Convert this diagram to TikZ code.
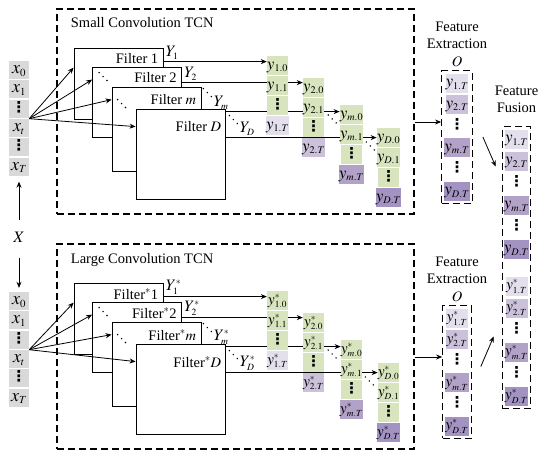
\documentclass[tikz,border=0pt]{standalone}
\usepackage{mathptmx}
\usepackage{fontspec}
\setmainfont{Liberation Serif}
\newfontfamily\dotsfont{DejaVu Sans}
\usetikzlibrary{arrows.meta, positioning, fit, backgrounds}

\definecolor{cellgray}{HTML}{D9D9D9}
\definecolor{cellgreen}{HTML}{D7E4BD}
\definecolor{lavA}{HTML}{E4DFEC}
\definecolor{lavB}{HTML}{CCC1DA}
\definecolor{lavC}{HTML}{B3A2C7}
\definecolor{lavD}{HTML}{A393C3}

\newcommand{\ssub}[1]{_{\smash{\scriptscriptstyle #1}}}
\newcommand{\vd}{{\dotsfont\bfseries\fontsize{15}{15}\selectfont ⋮}}

\begin{document}
\begin{tikzpicture}[x=1pt, y=-1pt,
  font=\fontsize{14.5}{17.5}\selectfont,
  filterbox/.style={rectangle, draw, fill=white, line width=0.8pt, minimum width=89pt},
  cell/.style={rectangle, inner sep=0pt, minimum width=21pt, minimum height=19pt, text height=10.5pt, text depth=3.5pt, font=\fontsize{\cf}{19}\selectfont},
  xcell/.style={cell, fill=cellgray, minimum width=20pt, minimum height=18pt, font=\fontsize{18}{20}\selectfont},
  ycell/.style={cell, fill=cellgreen},
  ylab/.style={anchor=south west, inner sep=2pt, font=\fontsize{16}{18}\selectfont},
  tcnbox/.style={rectangle, draw, line width=1.2pt, dash pattern=on 7pt off 4pt},
  featbox/.style={rectangle, draw, line width=1.2pt, dash pattern=on 7pt off 4pt, inner sep=2.5pt},
  arr/.style={-{Stealth[length=6pt, width=5pt]}, line width=0.8pt},
  link/.style={line width=0.8pt},
  dots/.style={line width=1.6pt, line cap=round, dash pattern=on 0pt off 5.6pt}
]
\useasboundingbox (0,0) rectangle (550,459);

\foreach \h/\oy/\ox/\fo/\cf/\s/\fs/\ttl in {a/0/0/0/17/{}/{~}/Small, b/235/231/147/15.5/{^{\scriptscriptstyle *}}/{$^*$}/Large}{
  % TCN block
  \node[tcnbox, minimum width=357pt, minimum height=205pt,
    label={[anchor=north west, xshift=11pt, yshift=-6pt]north west:\ttl{} Convolution TCN}] (tcn\h) at (235.5, 111.5+\oy) {};

  % Input sequence
  \foreach \k/\txt in {0/{$x\ssub{0}$}, 1/{$x\ssub{1}$}, 2/{\vd}, 3/{$x\ssub{t}$}, 4/{\vd}, 5/{$x\ssub{T}$}}
    \node[xcell] (x\h\k) at (19, 70+19.3*\k+\ox) {\txt};

  % Filters
  \node[filterbox, minimum height=71pt, label={[anchor=north east, inner sep=0pt, xshift=-5pt, yshift=-6pt]north east:Filter\fs 1}] (f1\h) at (118.5, 83.5+\oy) {};
  \node[filterbox, minimum height=70pt, label={[anchor=north east, inner sep=0pt, xshift=-5pt, yshift=-6pt]north east:Filter\fs 2}] (f2\h) at (137, 102+\oy) {};
  \node[filterbox, minimum height=84pt, label={[anchor=north east, inner sep=0pt, xshift=-5pt, yshift=-8pt]north east:Filter\fs $m$}] (fm\h) at (156.5, 129+\oy) {};
  \node[filterbox, minimum height=90pt, label={[anchor=north east, inner sep=0pt, xshift=-4pt, yshift=-13pt]north east:Filter\fs $D$}] (fD\h) at (180.5, 154+\oy) {};
  \draw[dots] ([shift={(7,6)}]f2\h.north west) -- ([shift={(15,14)}]f2\h.north west);
  \draw[dots] ([shift={(6,13)}]fm\h.north west) -- ([shift={(14,21)}]fm\h.north west);

  % Fan out from x_t
  \draw[arr] (x\h3.north east) -- ([yshift=-20pt]f1\h.north west);
  \draw[arr] (x\h3.north east) -- ([yshift=-13pt]f2\h.north west);
  \draw[arr] (x\h3.north east) -- ([yshift=-13pt]fm\h.north west);
  \draw[arr] (x\h3.north east) -- ([yshift=-18pt]fD\h.north west);

  % Filter outputs
  \foreach \cc/\cx/\cy/\nm/\lv in {1/277.5/65.5/1/lavA, 2/313.5/87.5/2/lavB, 3/351.5/114.5/m/lavC, 4/388.5/137.5/D/lavD}{
    \node[ycell] (c\cc\h0) at (\cx, \cy+\oy) {$y\s\ssub{\nm.0}$};
    \node[ycell] (c\cc\h1) at (\cx, \cy+20+\oy) {$y\s\ssub{\nm.1}$};
    \node[ycell] (c\cc\h2) at (\cx, \cy+40+\oy) {\vd};
    \node[ycell, fill=\lv] (c\cc\h3) at (\cx, \cy+60+\oy) {$y\s\ssub{\nm.T}$};
  }
  \draw[dots] ([shift={(4,7.5)}]c2\h1.east) -- ([shift={(12,15.5)}]c2\h1.east);
  \draw[dots] ([shift={(3,7.5)}]c3\h1.east) -- ([shift={(11,15.5)}]c3\h1.east);

  \begin{pgfonlayer}{background}
    \draw[arr] ([yshift=-14pt]f1\h.north east) -- node[pos=0, ylab] {$Y\ssub{1}\s$} ([yshift=-14pt]f1\h.north east -| c1\h0.west);
    \draw[link] ([yshift=-16pt]f2\h.north east) -- node[pos=0, ylab] {$Y\ssub{2}\s$} ([yshift=-16pt]f2\h.north east -| c1\h1.west);
    \draw[arr] ([yshift=-16pt]f2\h.north east -| c1\h1.east) -- ([yshift=-16pt]f2\h.north east -| c2\h0.west);
    \draw[link] ([yshift=-25pt]fm\h.north east) -- node[pos=0, ylab, xshift=10pt] {$Y\ssub{m}\s$} ([yshift=-25pt]fm\h.north east -| c2\h1.west);
    \draw[arr] ([yshift=-25pt]fm\h.north east -| c2\h1.east) -- ([yshift=-25pt]fm\h.north east -| c3\h0.west);
    \draw[link] ([yshift=-29pt]fD\h.north east) -- node[pos=0, ylab, xshift=12pt] {$Y\ssub{D}\s$} ([yshift=-29pt]fD\h.north east -| c3\h1.west);
    \draw[arr] ([yshift=-29pt]fD\h.north east -| c3\h1.east) -- ([yshift=-29pt]fD\h.north east -| c4\h0.west);
  \end{pgfonlayer}
  \draw[dots] ([shift={(2,2)}]fm\h.north east) -- ([shift={(10,10)}]fm\h.north east);
  \draw[dots] ([shift={(4,7)}]fD\h.north east) -- ([shift={(12,15)}]fD\h.north east);

  % Feature extraction and fusion cells
  \foreach \k/\txt/\lv in {0/{$y\s\ssub{1.T}$}/lavA, 1/{$y\s\ssub{2.T}$}/lavB, 2/{\vd}/white, 3/{$y\s\ssub{m.T}$}/lavC, 4/{\vd}/white, 5/{$y\s\ssub{D.T}$}/lavD}{
    \node[cell, fill=\lv, minimum width=22pt] (e\h\k) at (457, 83+21.6*\k+\oy) {\txt};
    \node[cell, fill=\lv, minimum width=22pt] (u\h\k) at (516.5, 139+22*\k+\fo) {\txt};
  }
  \node[featbox, fit=(e\h0)(e\h5)] (fe\h) {};
  \node[above=0pt of fe\h, align=center] (fel\h) {Feature\\Extraction\\$O$};
  \draw[arr] ([yshift=-10.5pt]tcn\h.east) -- ([yshift=-10.5pt]tcn\h.east -| fe\h.west);
}

% Fusion
\node[featbox, fit=(ua0)(ub5)] (fus) {};
\node[above=10pt of fus, align=center] (fusl) {Feature\\Fusion};
\draw[arr] ([xshift=10pt]fea.east) -- ([shift={(-6,29.5)}]fea.east -| fus.west);
\draw[arr] ([shift={(9,-5.5)}]feb.east) -- ([shift={(-8,-35.5)}]feb.east -| fus.west);

% Input X
\node[font=\fontsize{16}{18}\selectfont] (X) at (19,237) {$X$};
\draw[arr, shorten <=8pt, shorten >=6pt] (X) -- (xa5);
\draw[arr, shorten <=12pt, shorten >=4pt] (X) -- (xb0);
\end{tikzpicture}
\end{document}
